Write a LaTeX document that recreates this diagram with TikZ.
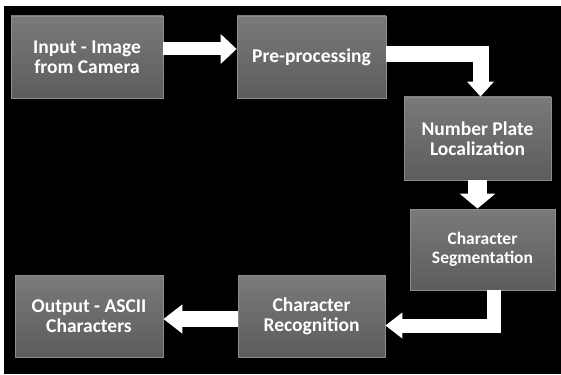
\documentclass[tikz,border=0pt]{standalone}
\usepackage{fontspec}
\setmainfont{Carlito}
\usetikzlibrary{arrows.meta}
\definecolor{boxtop}{RGB}{122,122,122}
\definecolor{boxbot}{RGB}{92,92,92}
\definecolor{boxedge}{RGB}{140,140,140}
\tikzset{
  stagebox/.style={draw=boxedge, line width=0.8pt, top color=boxtop, bottom color=boxbot,
    text=white, align=center, inner sep=0pt,
    font=\fontsize{19.5}{20}\selectfont\bfseries},
  barrow/.style={draw=white, line join=miter, line cap=butt}
}
\begin{document}
\begin{tikzpicture}[x=1pt,y=-1pt]
\useasboundingbox (0,0) rectangle (561,374);
\fill[white] (0,0) rectangle (561,374);
\fill[black] (4,6) rectangle (561,374);
\node[stagebox, minimum width=152pt, minimum height=82pt] (in) at (87,57) {Input - Image\\from Camera};
\node[stagebox, minimum width=149pt, minimum height=82pt] (pre) at (311.5,57) {Pre-processing};
\node[stagebox, minimum width=147pt, minimum height=83pt] (npl) at (477.5,138.5) {Number Plate\\Localization};
\node[stagebox, minimum width=145pt, minimum height=81pt, font=\fontsize{17.5}{19}\selectfont\bfseries] (seg) at (482.5,249.5) {Character\\Segmentation};
\node[stagebox, minimum width=147pt, minimum height=82pt] (rec) at (311.5,316) {Character\\Recognition};
\node[stagebox, minimum width=148pt, minimum height=82pt] (out) at (89,316) {Output - ASCII\\Characters};
\draw[barrow, line width=13pt, -{Triangle[length=16pt,width=29pt]}] ([yshift=8pt]in.east) -- ([yshift=8pt]pre.west);
\draw[barrow, line width=16pt, -{Triangle[length=15pt,width=26pt]}] ([yshift=3pt]pre.east) -| ([xshift=3pt]npl.north);
\draw[barrow, line width=19pt, -{Triangle[length=15pt,width=35pt]}] (npl.south) -- (npl.south |- seg.north);
\draw[barrow, line width=14pt, -{Triangle[length=17pt,width=25pt]}] ([xshift=11pt]seg.south) |- ([yshift=-9.5pt]rec.east);
\draw[barrow, line width=16pt, -{Triangle[length=19pt,width=28pt]}] ([yshift=-3pt]rec.west) -- ([yshift=-3pt]out.east);
\end{tikzpicture}
\end{document}
